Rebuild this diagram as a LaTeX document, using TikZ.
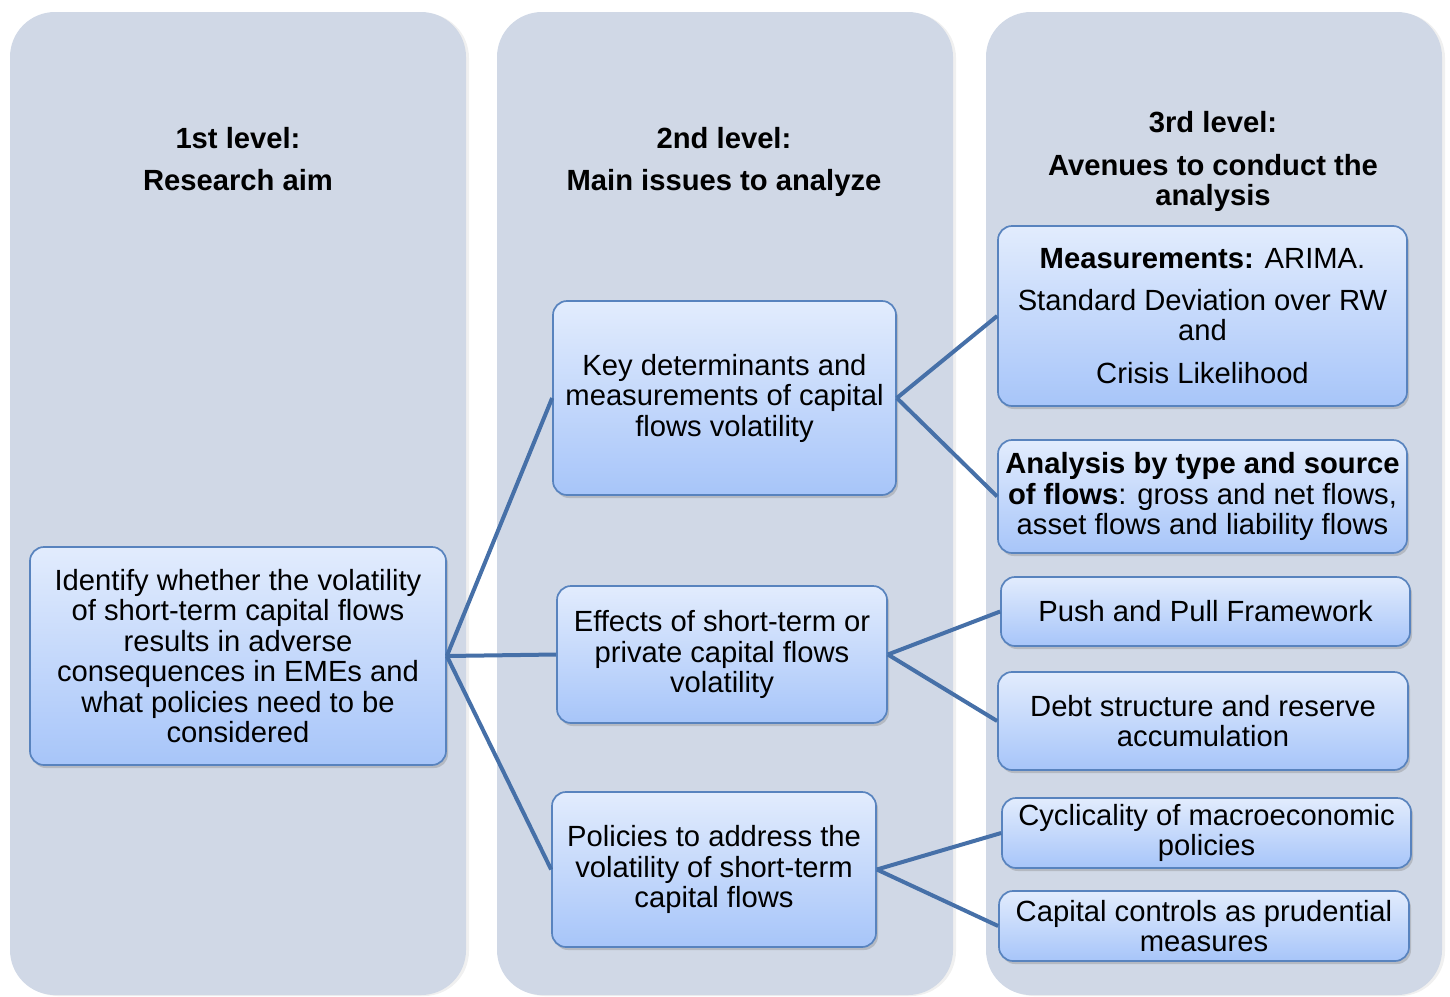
\documentclass[tikz,border=0pt]{standalone}
\usepackage{fontspec}
\setmainfont{Liberation Sans}
\usetikzlibrary{shadows}
\definecolor{colfill}{HTML}{D0D8E6}
\definecolor{boxtop}{HTML}{E2ECFD}
\definecolor{boxbot}{HTML}{A7C5F9}
\definecolor{boxline}{HTML}{5883BE}
\definecolor{linkline}{HTML}{4670A8}
\begin{document}
\begin{tikzpicture}[x=1pt,y=-1pt,
  column/.style={rounded corners=45pt, fill=colfill, minimum width=456pt,
    minimum height=983pt, inner sep=0pt,
    drop shadow={opacity=0.12, shadow xshift=3pt, shadow yshift=-1pt}},
  txt/.style={font=\fontsize{29.2}{30.5}\selectfont, align=center},
  head/.style={txt, font=\fontsize{29.2}{30.5}\selectfont\bfseries},
  box/.style={txt, draw=boxline, line width=1.7pt, rounded corners=14pt,
    top color=boxtop, bottom color=boxbot, inner sep=2pt,
    drop shadow={opacity=0.35, shadow xshift=2pt, shadow yshift=-3pt}},
  link/.style={draw=linkline, line width=4pt}]
\useasboundingbox (0,0) rectangle (1450,996);

% three level columns
\node[column] (c1) at (238,503.5) {};
\node[column] (c2) at (725,503.5) {};
\node[column] (c3) at (1214,503.5) {};

% column headings
\node[head] (h1) at (238,159) {1st level:\\[12pt]Research aim};
\node[head] (h2) at (724,162) {2nd level:\\[12pt]Main issues to analyze};
\node[head] (h3) at (1213,161.5) {3rd level:\\[12pt]Avenues to conduct the\\analysis};

% level 1
\node[box, minimum width=416pt, minimum height=218pt] (aim) at (238,656)
  {Identify whether the volatility\\of short-term capital flows\\results in adverse\\consequences in EMEs and\\what policies need to be\\considered};

% level 2
\node[box, minimum width=343pt, minimum height=194pt] (key) at (724.5,398)
  {Key determinants and\\measurements of capital\\flows volatility};
\node[box, minimum width=330pt, minimum height=137pt] (eff) at (722,654.5)
  {Effects of short-term or\\private capital flows\\volatility};
\node[box, minimum width=324pt, minimum height=155pt] (pol) at (714,869.5)
  {Policies to address the\\volatility of short-term\\capital flows};

% level 3
\node[box, minimum width=409pt, minimum height=180pt] (meas) at (1202.5,316)
  {\textbf{Measurements:} ARIMA.\\[11pt]Standard Deviation over RW\\and\\[12pt]Crisis Likelihood};
\node[box, minimum width=409pt, minimum height=113pt] (ana) at (1202.5,496.5)
  {\textbf{Analysis by type and source}\\\textbf{of flows}: gross and net flows,\\asset flows and liability flows};
\node[box, minimum width=409pt, minimum height=69pt] (push) at (1205.5,611.5)
  {Push and Pull Framework};
\node[box, minimum width=410pt, minimum height=98pt] (debt) at (1203,721)
  {Debt structure and reserve\\accumulation};
\node[box, minimum width=409pt, minimum height=70pt] (cyc) at (1206.5,833)
  {Cyclicality of macroeconomic\\policies};
\node[box, minimum width=410pt, minimum height=70pt] (cap) at (1204,926)
  {Capital controls as prudential\\measures};

% connectors
\draw[link] (aim.east) -- (key.west);
\draw[link] (aim.east) -- (eff.west);
\draw[link] (aim.east) -- (pol.west);
\draw[link] (key.east) -- (meas.west);
\draw[link] (key.east) -- (ana.west);
\draw[link] (eff.east) -- (push.west);
\draw[link] (eff.east) -- (debt.west);
\draw[link] (pol.east) -- (cyc.west);
\draw[link] (pol.east) -- (cap.west);
\end{tikzpicture}
\end{document}
